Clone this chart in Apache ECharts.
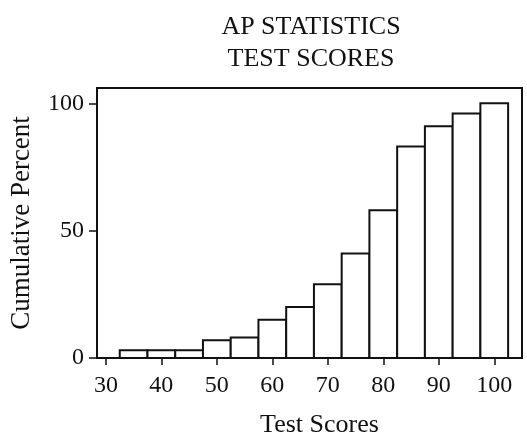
<!DOCTYPE html>
<html>
<head>
<meta charset="utf-8">
<script src="https://cdn.jsdelivr.net/npm/echarts@6/dist/echarts.min.js"></script>
<style>
  html, body { margin: 0; padding: 0; background: #fff; }
  #main { width: 527px; height: 436px; }
</style>
</head>
<body>
<div id="main"></div>
<script>
// bin centres (width 5) and cumulative percent
const binCenters = [35, 40, 45, 50, 55, 60, 65, 70, 75, 80, 85, 90, 95, 100];
const cumPercent = [3, 3, 3, 7, 8, 15, 20, 29, 41, 58, 83, 91, 96, 100];
const xTicks = [30, 40, 50, 60, 70, 80, 90, 100];
const yTicks = [0, 50, 100];
const binWidth = 5;

const ink = '#111';
const serif = '"Liberation Serif", "DejaVu Serif", serif';

let chart = echarts.init(document.getElementById('main'));

let data = binCenters.map((c, i) => [c, cumPercent[i]]);

let option = {
    backgroundColor: '#fff',
    animation: false,
    title: {
        text: 'AP STATISTICS\nTEST SCORES',
        left: 306,
        top: 6,
        textAlign: 'center',
        textStyle: {
            fontFamily: serif,
            fontWeight: 'normal',
            fontSize: 26,
            lineHeight: 32,
            color: ink
        }
    },
    grid: {
        left: 97,
        right: 5,
        top: 88,
        bottom: 78,
        outerBoundsMode: 'none',
        containLabel: false,
        show: true,
        borderColor: ink,
        borderWidth: 2
    },
    xAxis: {
        type: 'value',
        min: 28.4,
        max: 105,
        name: 'Test Scores',
        nameLocation: 'middle',
        nameGap: 54,
        nameTextStyle: {
            fontFamily: serif,
            fontSize: 26,
            color: ink,
            padding: [0, 0, 0, 20]
        },
        splitLine: { show: false },
        axisLine: { lineStyle: { color: ink, width: 2 } },
        axisTick: { customValues: xTicks, length: 7, lineStyle: { color: ink, width: 1.5 } },
        axisLabel: {
            customValues: xTicks,
            margin: 16,
            fontFamily: serif,
            fontSize: 24,
            color: ink
        }
    },
    yAxis: {
        type: 'value',
        min: 0,
        max: 106,
        name: 'Cumulative Percent',
        nameLocation: 'middle',
        nameGap: 62,
        nameTextStyle: {
            fontFamily: serif,
            fontSize: 27,
            color: ink
        },
        splitLine: { show: false },
        axisLine: { show: true, lineStyle: { color: ink, width: 2 } },
        axisTick: { show: true, customValues: yTicks, length: 8, lineStyle: { color: ink, width: 1.5 } },
        axisLabel: {
            customValues: yTicks,
            margin: 13,
            fontFamily: serif,
            fontSize: 24,
            color: ink
        }
    },
    series: [{
        type: 'custom',
        data: data,
        renderItem: function (params, api) {
            let c = api.value(0);
            let v = api.value(1);
            let p0 = api.coord([c - binWidth / 2, v]);
            let p1 = api.coord([c + binWidth / 2, 0]);
            return {
                type: 'rect',
                shape: { x: p0[0], y: p0[1], width: p1[0] - p0[0], height: p1[1] - p0[1] },
                style: { fill: '#fff', stroke: ink, lineWidth: 2 }
            };
        }
    }]
};

chart.setOption(option);

window.onresize = () => {
    chart.resize();
};
</script>
</body>
</html>
